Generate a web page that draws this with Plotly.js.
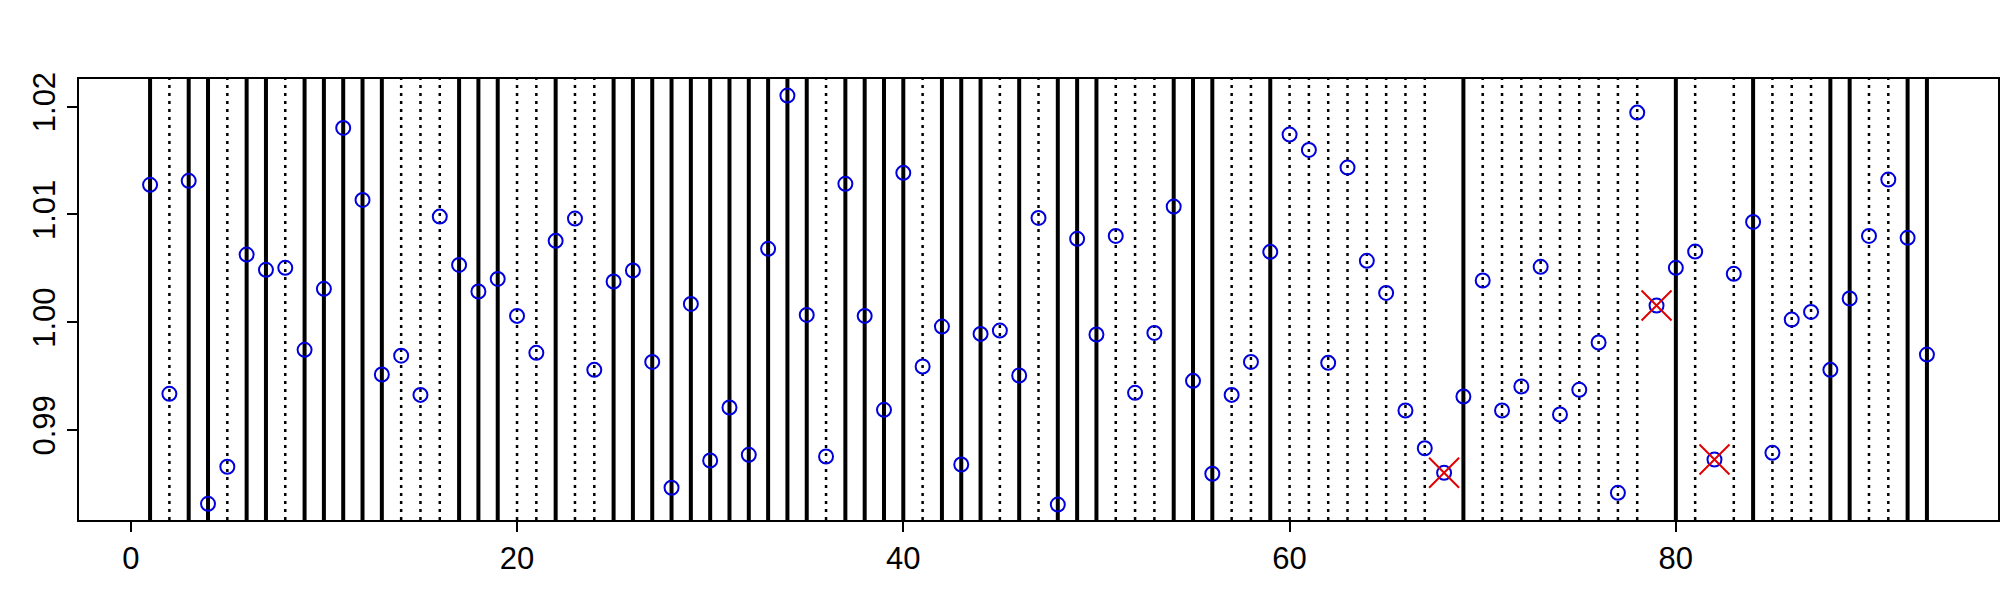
<!DOCTYPE html>
<html>
<head>
<meta charset="utf-8">
<script src="https://cdn.plot.ly/plotly-3.0.1.min.js"></script>
<style>html,body{margin:0;padding:0;background:#fff;}#chart{width:2000px;height:600px;}</style>
</head>
<body>
<div id="chart"></div>
<script>
// index of each observation
var idx = [1,2,3,4,5,6,7,8,9,10,11,12,13,14,15,16,17,18,19,20,21,22,23,24,25,26,27,28,29,30,
31,32,33,34,35,36,37,38,39,40,41,42,43,44,45,46,47,48,49,50,51,52,53,54,55,56,57,58,59,60,
61,62,63,64,65,66,67,68,69,70,71,72,73,74,75,76,77,78,79,80,81,82,83,84,85,86,87,88,89,90,
91,92,93];

// observed values
var values = [
1.01275, 0.99336, 1.01312, 0.98315, 0.98659, 1.00628, 1.00486, 1.00505, 0.99744, 1.00310,
1.01803, 1.01135, 0.99515, 0.99690, 0.99326, 1.00980, 1.00532, 1.00285, 1.00402, 1.00059,
0.99716, 1.00755, 1.00962, 0.99558, 1.00378, 1.00480, 0.99632, 0.98464, 1.00170, 0.98717,
0.99209, 0.98770, 1.00681, 1.02103, 1.00068, 0.98754, 1.01284, 1.00059, 0.99187, 1.01386,
0.99589, 0.99960, 0.98680, 0.99892, 0.99923, 0.99506, 1.00968, 0.98308, 1.00774, 0.99886,
1.00801, 0.99345, 0.99901, 1.01073, 0.99456, 0.98594, 0.99326, 0.99632, 1.00653, 1.01741,
1.01599, 0.99623, 1.01435, 1.00570, 1.00272, 0.99181, 0.98831, 0.98603, 0.99311, 1.00387,
0.99181, 0.99404, 1.00514, 0.99144, 0.99373, 0.99812, 0.98417, 1.01945, 1.00155, 1.00505,
1.00656, 0.98726, 1.00449, 1.00931, 0.98788, 1.00025, 1.00096, 0.99558, 1.00220, 1.00801,
1.01324, 1.00783, 0.99700
];

// group of each observation: 1 = flagged (solid rule), 0 = not flagged (dotted rule), null = outlier (no rule)
var flag = [
1,0,1,1,0,1,1,0,1,1,
1,1,1,0,0,0,1,1,1,0,
0,1,0,0,1,1,1,1,1,1,
1,1,1,1,1,0,1,1,1,1,
0,1,1,1,0,1,0,1,1,1,
0,0,0,1,1,1,0,0,1,0,
0,0,0,0,0,0,0,null,1,0,
0,0,0,0,0,0,0,0,null,1,
0,null,0,1,0,0,0,1,1,0,
0,1,1
];

// outlier observations (marked with a cross)
var outlierIdx = [68, 79, 82];

// x-axis tick values / y-axis tick values and labels
var xTicks = [0, 20, 40, 60, 80];
var yTicks = [0.99, 1.00, 1.01, 1.02];
var yTickLabels = ["0.99", "1.00", "1.01", "1.02"];

var outlierVals = outlierIdx.map(function(i){ return values[idx.indexOf(i)]; });

var shapes = [];
idx.forEach(function(i, k){
  if (flag[k] === null) return;
  var solid = flag[k] === 1;
  shapes.push({
    type: 'line', xref: 'x', yref: 'paper', x0: i, x1: i, y0: 0, y1: 1,
    layer: 'below',
    line: solid ? {color: '#000', width: 4} : {color: '#000', width: 2.5, dash: '3px,5px'}
  });
});

var traces = [
  {
    x: idx, y: values, type: 'scatter', mode: 'markers',
    marker: {symbol: 'circle-open', size: 14, color: '#0000dd', line: {width: 2, color: '#0000dd'}},
    hoverinfo: 'x+y', showlegend: false
  },
  {
    x: outlierIdx, y: outlierVals, type: 'scatter', mode: 'markers',
    marker: {symbol: 'x-thin-open', size: 30, color: '#e00000', line: {width: 2, color: '#e00000'}},
    hoverinfo: 'x+y', showlegend: false
  }
];

var font = {family: 'Liberation Sans, Arial, sans-serif', size: 31, color: '#000'};

var layout = {
  width: 2000, height: 600,
  margin: {l: 79, r: 2, t: 79, b: 80, pad: 0},
  paper_bgcolor: '#fff', plot_bgcolor: '#fff',
  font: font,
  showlegend: false,
  xaxis: {
    range: [-2.68, 96.68], tickvals: xTicks, ticktext: xTicks.map(String),
    showgrid: false, zeroline: false,
    showline: true, mirror: true, linecolor: '#000', linewidth: 2,
    ticks: 'outside', ticklen: 10, tickwidth: 2, tickcolor: '#000',
    tickfont: font
  },
  yaxis: {
    range: [0.98165, 1.02257], tickvals: yTicks, ticktext: yTickLabels,
    tickangle: -90,
    showgrid: false, zeroline: false,
    showline: true, mirror: true, linecolor: '#000', linewidth: 2,
    ticks: 'outside', ticklen: 10, tickwidth: 2, tickcolor: '#000',
    tickfont: font
  },
  shapes: shapes
};

Plotly.newPlot('chart', traces, layout, {staticPlot: true, displayModeBar: false});
</script>
</body>
</html>
